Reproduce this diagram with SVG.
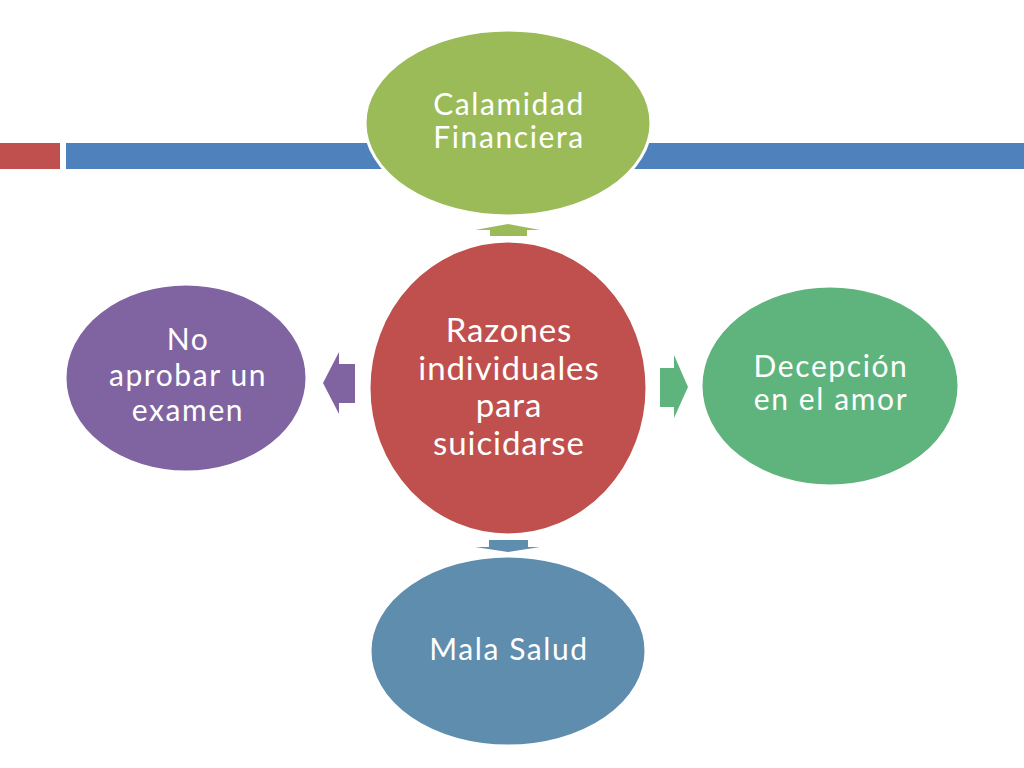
<svg xmlns="http://www.w3.org/2000/svg" width="1024" height="768" viewBox="0 0 1024 768">
<style>
.node{stroke:#ffffff;stroke-width:3}
.t{font-family:"Lato","Open Sans","DejaVu Sans",sans-serif;fill:#ffffff;text-anchor:middle;font-size:30px;letter-spacing:1.6px}
.tc{font-size:33px;letter-spacing:0.9px}
</style>
<rect width="1024" height="768" fill="#ffffff"/>
<g id="header-bars">
<rect x="0" y="143" width="60" height="26" fill="#C0504D"/>
<rect x="66" y="143" width="958" height="26" fill="#4F81BD"/>
</g>
<g id="connectors">
<polygon points="508,224 540,230 527,230 527,236 490,236 490,230 475,230" fill="#9BBB59"/>
<polygon points="323,383 339,352 339,364 355,364 355,403 339,403 339,414" fill="#8064A2"/>
<polygon points="688,387 674,355 674,368 660,368 660,407 674,407 674,418" fill="#5EB47C"/>
<polygon points="508,552 540,547 528,547 528,540 489,540 489,547 475,547" fill="#5F8DAE"/>
</g>
<g id="node-calamidad">
<ellipse class="node" cx="508" cy="123" rx="143" ry="93" fill="#9BBB59"/>
<text class="t" x="509" y="115">Calamidad</text>
<text class="t" x="509" y="148">Financiera</text>
</g>
<g id="node-razones">
<ellipse class="node" cx="508" cy="388" rx="139" ry="147" fill="#C0504D"/>
<text class="t tc" x="509" y="342">Razones</text>
<text class="t tc" x="509" y="380">individuales</text>
<text class="t tc" x="509" y="417">para</text>
<text class="t tc" x="509" y="455">suicidarse</text>
</g>
<g id="node-examen">
<ellipse class="node" cx="186" cy="378" rx="121" ry="94" fill="#8064A2"/>
<text class="t" x="188" y="350">No</text>
<text class="t" x="188" y="386">aprobar un</text>
<text class="t" x="188" y="421">examen</text>
</g>
<g id="node-amor">
<ellipse class="node" cx="830" cy="386" rx="129" ry="100" fill="#5EB47C"/>
<text class="t" x="831" y="377">Decepción</text>
<text class="t" x="831" y="410">en el amor</text>
</g>
<g id="node-salud">
<ellipse class="node" cx="508" cy="651" rx="138" ry="95" fill="#5F8DAE"/>
<text class="t" x="509" y="660">Mala Salud</text>
</g>
</svg>
